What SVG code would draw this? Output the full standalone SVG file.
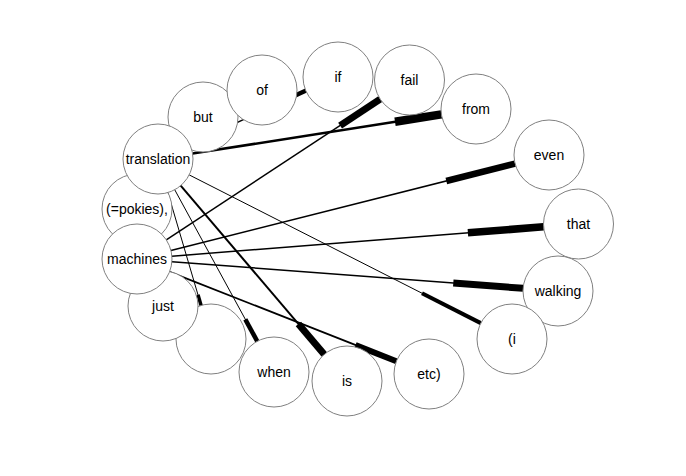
<svg xmlns="http://www.w3.org/2000/svg" width="686" height="476" viewBox="0 0 686 476">
<style>
.n circle{fill:#fff;stroke:#808080;stroke-width:1}
.n text{font-family:"Liberation Sans",Arial,sans-serif;font-size:14px;fill:#000;text-anchor:middle}
.e line{stroke:#000;stroke-linecap:butt;fill:none}
</style>
<rect width="686" height="476" fill="#fff"/>
<g id="edges" class="e">
<line x1="192.6" y1="153.6" x2="441.4" y2="114.4" stroke-width="2.5"/>
<line x1="395" y1="121.7" x2="441.4" y2="114.4" stroke-width="8.5"/>
<line x1="166.3" y1="239.8" x2="380.2" y2="99.2" stroke-width="1.5"/>
<line x1="340.1" y1="125.6" x2="380.2" y2="99.2" stroke-width="7"/>
<line x1="170.9" y1="250.4" x2="515.1" y2="163.6" stroke-width="1.5"/>
<line x1="446.3" y1="181" x2="515.1" y2="163.6" stroke-width="6.5"/>
<line x1="171.9" y1="256.2" x2="543.6" y2="226.8" stroke-width="1.5"/>
<line x1="467.9" y1="232.8" x2="543.6" y2="226.8" stroke-width="7.5"/>
<line x1="171.9" y1="261.7" x2="523.1" y2="288.3" stroke-width="1.5"/>
<line x1="453.3" y1="283" x2="523.1" y2="288.3" stroke-width="7"/>
<line x1="169.6" y1="271.8" x2="396.4" y2="361.2" stroke-width="1.8"/>
<line x1="355.5" y1="345.1" x2="396.4" y2="361.2" stroke-width="6"/>
<line x1="180.7" y1="185.6" x2="324.3" y2="354.4" stroke-width="2"/>
<line x1="298.4" y1="324" x2="324.3" y2="354.4" stroke-width="7"/>
<line x1="174.7" y1="189.7" x2="257.3" y2="341.3" stroke-width="1"/>
<line x1="245.3" y1="319.4" x2="257.3" y2="341.3" stroke-width="4.5"/>
<line x1="167.9" y1="192.6" x2="201.1" y2="305.4" stroke-width="1"/>
<line x1="198" y1="294.8" x2="201.1" y2="305.4" stroke-width="3.5"/>
<line x1="189.2" y1="174.9" x2="480.8" y2="323.1" stroke-width="1"/>
<line x1="422" y1="293.2" x2="480.8" y2="323.1" stroke-width="4"/>
<line x1="189.9" y1="144.5" x2="306.1" y2="90.5" stroke-width="1.5"/>
<line x1="295.2" y1="95.5" x2="306.1" y2="90.5" stroke-width="4.5"/>
</g>
<g id="node-but" class="n"><circle cx="203" cy="117" r="35"/><text x="203" y="122">but</text></g>
<g id="node-of" class="n"><circle cx="262" cy="90" r="35"/><text x="262" y="95">of</text></g>
<g id="node-if" class="n"><circle cx="338" cy="77" r="35"/><text x="338" y="82">if</text></g>
<g id="node-fail" class="n"><circle cx="409.5" cy="80" r="35"/><text x="409.5" y="85">fail</text></g>
<g id="node-from" class="n"><circle cx="476" cy="109" r="35"/><text x="476" y="114">from</text></g>
<g id="node-even" class="n"><circle cx="549" cy="155" r="35"/><text x="549" y="160">even</text></g>
<g id="node-that" class="n"><circle cx="578.5" cy="224" r="35"/><text x="578.5" y="229">that</text></g>
<g id="node-walking" class="n"><circle cx="558" cy="291" r="35"/><text x="558" y="296">walking</text></g>
<g id="node-i" class="n"><circle cx="512" cy="339" r="35"/><text x="512" y="344">(i</text></g>
<g id="node-etc" class="n"><circle cx="429" cy="374" r="35"/><text x="429" y="379">etc)</text></g>
<g id="node-is" class="n"><circle cx="347" cy="381" r="35"/><text x="347" y="386">is</text></g>
<g id="node-when" class="n"><circle cx="274" cy="372" r="35"/><text x="274" y="377">when</text></g>
<g id="node-empty" class="n"><circle cx="211" cy="339" r="35"/></g>
<g id="node-just" class="n"><circle cx="163" cy="306" r="35"/><text x="163" y="311">just</text></g>
<g id="node-pokies" class="n"><circle cx="137" cy="209" r="35"/><text x="137" y="214">(=pokies),</text></g>
<g id="node-machines" class="n"><circle cx="137" cy="259" r="35"/><text x="137" y="264">machines</text></g>
<g id="node-translation" class="n"><circle cx="158" cy="159" r="35"/><text x="158" y="164">translation</text></g>
</svg>
